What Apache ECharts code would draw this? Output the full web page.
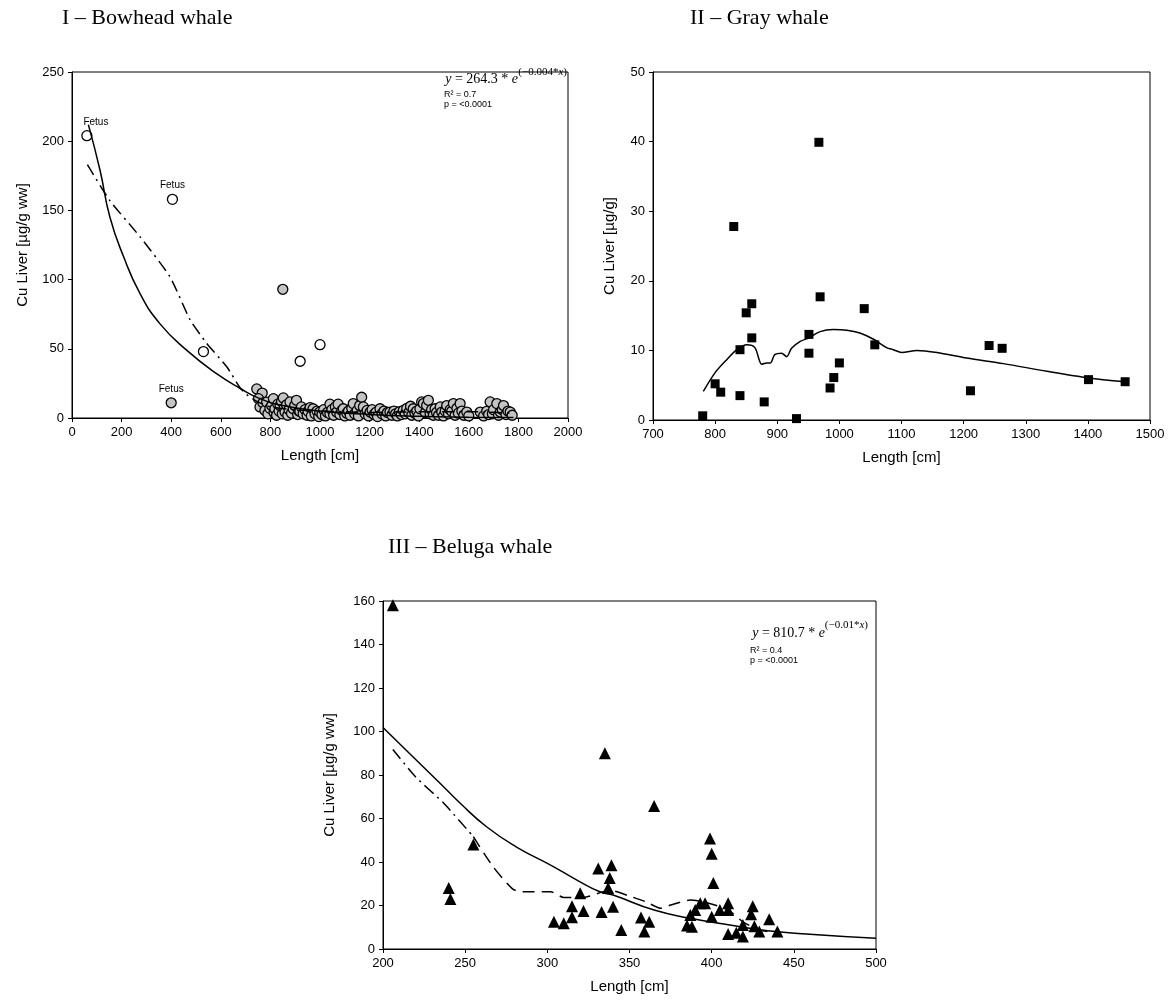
<!DOCTYPE html>
<html>
<head>
<meta charset="utf-8">
<script src="https://cdn.jsdelivr.net/npm/echarts@6/dist/echarts.min.js"></script>
<style>
html, body { margin: 0; padding: 0; background: #fff; }
#chart { width: 1173px; height: 1008px; }
</style>
</head>
<body>
<div id="chart"></div>
<script>
// ---- I - Bowhead whale: length [cm], Cu liver [ug/g ww]
var bowFetusOpen = [[60, 204], [405, 158]];
var bowFetusGray = [[400, 11]];
var bowOpen = [[530, 48], [920, 41], [1000, 53]];
var bowGray = [
    [850, 93], [745, 21], [767, 18], [752, 14], [758, 8], [770, 11], [778, 5.5], [785, 11.5], [790, 3], [798, 7],
    [805, 9], [812, 14], [815, 4], [818, 6.7], [825, 2], [830, 10], [835, 5], [839, 9], [845, 12], [848, 3],
    [852, 14.5], [855, 7], [859, 4.3], [865, 9.5], [870, 2], [875, 6], [879, 11.6], [885, 3.5], [892, 6.7], [898, 9],
    [905, 12.8], [910, 2.5], [915, 5], [919, 4.8], [925, 8], [932, 3], [940, 6], [948, 2], [952, 4.8], [960, 7.5],
    [965, 1.5], [972, 6.7], [980, 3], [988, 5], [995, 1], [999, 4.3], [1008, 2.5], [1015, 6], [1022, 1.5], [1030, 4],
    [1040, 10], [1040, 3], [1048, 6], [1055, 2], [1062, 8], [1067, 4.3], [1073, 10], [1080, 2.5], [1088, 5.5], [1094, 6.7],
    [1100, 1.5], [1108, 3.5], [1115, 5], [1122, 2], [1128, 7], [1134, 10.4], [1140, 3], [1150, 5.5], [1155, 1.5], [1160, 9],
    [1168, 15], [1175, 8], [1182, 3], [1190, 5.5], [1196, 1.5], [1202, 4.3], [1210, 6], [1218, 2.5], [1225, 4], [1232, 1],
    [1242, 6.7], [1250, 3], [1258, 5], [1265, 1.5], [1272, 4], [1282, 4.3], [1290, 2], [1298, 5], [1305, 3], [1312, 1.5],
    [1320, 4.5], [1328, 2.5], [1336, 5.5], [1344, 3], [1350, 7], [1358, 4], [1365, 8.5], [1370, 2], [1376, 6.7], [1383, 3.5],
    [1390, 5], [1397, 1.5], [1403, 6.7], [1410, 11.6], [1417, 10.4], [1425, 4], [1430, 9], [1437, 12.8], [1444, 3], [1450, 6],
    [1457, 2], [1464, 6.7], [1470, 4], [1478, 2], [1485, 8], [1491, 4.3], [1498, 1.5], [1505, 5], [1511, 9], [1518, 3],
    [1525, 6], [1531, 4.8], [1538, 10.4], [1545, 2], [1552, 7], [1558, 3.5], [1565, 10.4], [1572, 5], [1580, 2], [1592, 4.3],
    [1600, 1.5], [1646, 4.3], [1660, 1.5], [1672, 4.8], [1680, 2.5], [1686, 11.6], [1695, 3], [1700, 6], [1713, 10.4], [1720, 2],
    [1727, 4.3], [1735, 6], [1740, 9], [1750, 2.5], [1758, 5], [1767, 4.3], [1775, 2]
];
var bowFitLine = [[66, 212], [113, 179], [153, 145], [207, 117], [274, 90], [355, 68], [462, 49], [583, 32], [677, 21.5],
    [758, 14], [850, 9], [1000, 5], [1200, 2.5], [1400, 1.2], [1600, 0.6], [1780, 0.3]];
var bowSmoothLine = [[62, 183], [153, 157], [274, 131], [395, 102], [476, 71], [543, 54], [624, 37], [677, 22], [704, 17],
    [745, 12], [800, 8], [900, 6], [1000, 5], [1200, 4], [1400, 4.5], [1620, 4.5], [1780, 3.5]];

// ---- II - Gray whale
var grayPoints = [[780, 0.6], [800, 5.2], [809, 4.0], [830, 27.8], [840, 10.1], [840, 3.5], [850, 15.4], [859, 16.7],
    [859, 11.8], [879, 2.6], [931, 0.2], [951, 12.3], [951, 9.6], [967, 39.9], [969, 17.7], [985, 4.6], [991, 6.1],
    [1000, 8.2], [1040, 16.0], [1057, 10.8], [1211, 4.2], [1241, 10.7], [1262, 10.3], [1401, 5.8], [1460, 5.5]];
var graySmoothLine = [[781, 4.1], [800, 6.8], [819, 8.7], [835, 10.1], [851, 10.8], [864, 10.4], [875, 8.0], [883, 8.2],
    [889, 8.2], [896, 9.4], [907, 9.6], [915, 9.1], [923, 10.3], [937, 11.3], [951, 11.8], [969, 12.7], [990, 13.0],
    [1012, 12.9], [1033, 12.5], [1055, 11.6], [1076, 10.4], [1087, 10.1], [1100, 9.7], [1125, 10.0], [1157, 9.7],
    [1205, 8.9], [1264, 8.1], [1334, 7.0], [1401, 6.05], [1460, 5.5]];

// ---- III - Beluga whale
var belugaPoints = [[206, 158], [240, 28], [241, 23], [255, 48], [304, 12.5], [310, 11.8], [315, 14.6], [315, 19.7],
    [320, 25.6], [322, 17.5], [331, 37], [333, 17], [335, 90], [337, 28], [338, 32.7], [339, 38.5], [340, 19.4],
    [345, 8.7], [357, 14.5], [359, 8], [362, 12.5], [365, 65.7], [385, 10.8], [388, 10.2], [387, 15.6], [390, 17.9],
    [393, 21], [396, 21], [399, 50.8], [400, 43.8], [401, 30.3], [400, 14.8], [405, 17.9], [410, 21], [410, 17.9],
    [410, 6.9], [415, 7.5], [419, 5.7], [419, 11], [424, 16], [425, 19.7], [426, 10.5], [429, 8], [435, 13.7], [440, 8]];
var belugaFitLine = [[200, 101.8], [216, 90], [235, 76], [247, 67], [263, 56.2], [281, 47], [302, 38.6], [318, 31.7],
    [332, 26.3], [340, 24.8], [365, 17.9], [387, 14.1], [411, 11], [434, 8.4], [462, 6.7], [500, 4.9]];
var belugaSmoothA = [[206, 91.7], [220, 79], [237, 67], [255, 51.6]];
var belugaSmoothB = [[255, 51.6], [267, 37.8], [279, 27.5], [285, 26.3], [302, 26.3], [310, 23.7], [322, 23.7],
    [338, 27], [350, 24.3], [360, 21.7], [369, 18.7], [375, 20.2], [387, 22.5], [397, 21.3], [410, 18], [419, 12.5],
    [429, 8.7], [434, 8]];

var SANS = 'Liberation Sans, Arial, sans-serif';
var SERIF = 'Liberation Serif, Times New Roman, serif';

function plainNum(v) { return String(v); }

function makeX(idx, min, max, step) {
    return {
        type: 'value', gridIndex: idx, min: min, max: max, interval: step,
        name: 'Length [cm]', nameLocation: 'middle', nameGap: 30,
        nameTextStyle: { fontFamily: SANS, fontSize: 15, color: '#000' },
        axisLine: { show: true, onZero: false, lineStyle: { color: '#000', width: 1 } },
        axisTick: { show: true, length: 4, lineStyle: { color: '#000' } },
        axisLabel: { fontFamily: SANS, fontSize: 13, color: '#000', margin: 8, formatter: plainNum },
        splitLine: { show: false }
    };
}
function makeY(idx, min, max, step, name, gap) {
    return {
        type: 'value', gridIndex: idx, min: min, max: max, interval: step,
        name: name, nameLocation: 'middle', nameGap: gap,
        nameTextStyle: { fontFamily: SANS, fontSize: 15, color: '#000' },
        axisLine: { show: true, onZero: false, lineStyle: { color: '#000', width: 1 } },
        axisTick: { show: true, length: 4, lineStyle: { color: '#000' } },
        axisLabel: { fontFamily: SANS, fontSize: 13, color: '#000', margin: 8, formatter: plainNum },
        splitLine: { show: false }
    };
}
function line(idx, data, type, smooth) {
    return {
        type: 'line', xAxisIndex: idx, yAxisIndex: idx, data: data, smooth: smooth,
        showSymbol: false, silent: true,
        lineStyle: { color: '#000', width: 1.5, type: type }
    };
}
function dots(idx, data, symbol, size, fill, border) {
    return {
        type: 'scatter', xAxisIndex: idx, yAxisIndex: idx, data: data,
        symbol: symbol, symbolSize: size,
        itemStyle: { color: fill, borderColor: '#000', borderWidth: border, opacity: 1 }
    };
}
var fetusLabel = {
    show: true, position: 'top', distance: 3, formatter: 'Fetus',
    fontFamily: SANS, fontSize: 10, color: '#000'
};

var chart = echarts.init(document.getElementById('chart'));

var fetusOpen = dots(0, bowFetusOpen.map(function (p, i) {
    return { value: p, label: i === 0 ? { offset: [9, 0] } : {} };
}), 'circle', 10, '#fff', 1.3);
fetusOpen.label = fetusLabel;
var fetusGray = dots(0, bowFetusGray, 'circle', 10, '#c4c4c4', 1.3);
fetusGray.label = fetusLabel;

var option = {
    animation: false,
    backgroundColor: '#fff',
    grid: [
        { left: 72, top: 72, width: 496, height: 346, show: true, borderColor: '#000', borderWidth: 1 },
        { left: 653, top: 72, width: 497, height: 348, show: true, borderColor: '#000', borderWidth: 1 },
        { left: 383, top: 601, width: 493, height: 348, show: true, borderColor: '#000', borderWidth: 1 }
    ],
    xAxis: [makeX(0, 0, 2000, 200), makeX(1, 700, 1500, 100), makeX(2, 200, 500, 50)],
    yAxis: [
        makeY(0, 0, 250, 50, 'Cu Liver [µg/g ww]', 42),
        makeY(1, 0, 50, 10, 'Cu Liver [µg/g]', 36),
        makeY(2, 0, 160, 20, 'Cu Liver [µg/g ww]', 46)
    ],
    series: [
        line(0, bowFitLine, 'solid', true),
        line(0, bowSmoothLine, [12, 5, 2, 5], 0.2),
        dots(0, bowGray, 'circle', 10, '#c4c4c4', 1.3),
        dots(0, bowOpen, 'circle', 10, '#fff', 1.3),
        fetusOpen,
        fetusGray,

        line(1, graySmoothLine, 'solid', 0.3),
        dots(1, grayPoints, 'rect', 9, '#000', 0),

        line(2, belugaFitLine, 'solid', true),
        line(2, belugaSmoothA, [12, 5, 2, 5], 0.2),
        line(2, belugaSmoothB, [12, 7], 0.2),
        dots(2, belugaPoints, 'triangle', 12, '#000', 0)
    ],
    graphic: [
        { type: 'text', left: 62, top: 7, style: { text: 'I – Bowhead whale', font: '22px ' + SERIF, fill: '#000' } },
        { type: 'text', left: 690, top: 7, style: { text: 'II – Gray whale', font: '22px ' + SERIF, fill: '#000' } },
        { type: 'text', left: 388, top: 536, style: { text: 'III – Beluga whale', font: '22px ' + SERIF, fill: '#000' } },

        { type: 'text', x: 518, y: 79, style: {
            text: '{i|y} = 264.3 * {i|e}', align: 'right', verticalAlign: 'middle',
            font: '14px ' + SERIF, fill: '#000', rich: { i: { fontStyle: 'italic', fontFamily: SERIF, fontSize: 14 } } } },
        { type: 'text', x: 567, y: 72, style: {
            text: '(−0.004*{i|x})', align: 'right', verticalAlign: 'middle',
            font: '11px ' + SERIF, fill: '#000', rich: { i: { fontStyle: 'italic', fontFamily: SERIF, fontSize: 11 } } } },
        { type: 'text', x: 444, y: 95, style: { text: 'R² = 0.7', verticalAlign: 'middle', font: '9px ' + SANS, fill: '#000' } },
        { type: 'text', x: 444, y: 105, style: { text: 'p = <0.0001', verticalAlign: 'middle', font: '9px ' + SANS, fill: '#000' } },

        { type: 'text', x: 825, y: 633, style: {
            text: '{i|y} = 810.7 * {i|e}', align: 'right', verticalAlign: 'middle',
            font: '14px ' + SERIF, fill: '#000', rich: { i: { fontStyle: 'italic', fontFamily: SERIF, fontSize: 14 } } } },
        { type: 'text', x: 868, y: 625, style: {
            text: '(−0.01*{i|x})', align: 'right', verticalAlign: 'middle',
            font: '11px ' + SERIF, fill: '#000', rich: { i: { fontStyle: 'italic', fontFamily: SERIF, fontSize: 11 } } } },
        { type: 'text', x: 750, y: 651, style: { text: 'R² = 0.4', verticalAlign: 'middle', font: '9px ' + SANS, fill: '#000' } },
        { type: 'text', x: 750, y: 661, style: { text: 'p = <0.0001', verticalAlign: 'middle', font: '9px ' + SANS, fill: '#000' } }
    ]
};
chart.setOption(option);
</script>
</body>
</html>
